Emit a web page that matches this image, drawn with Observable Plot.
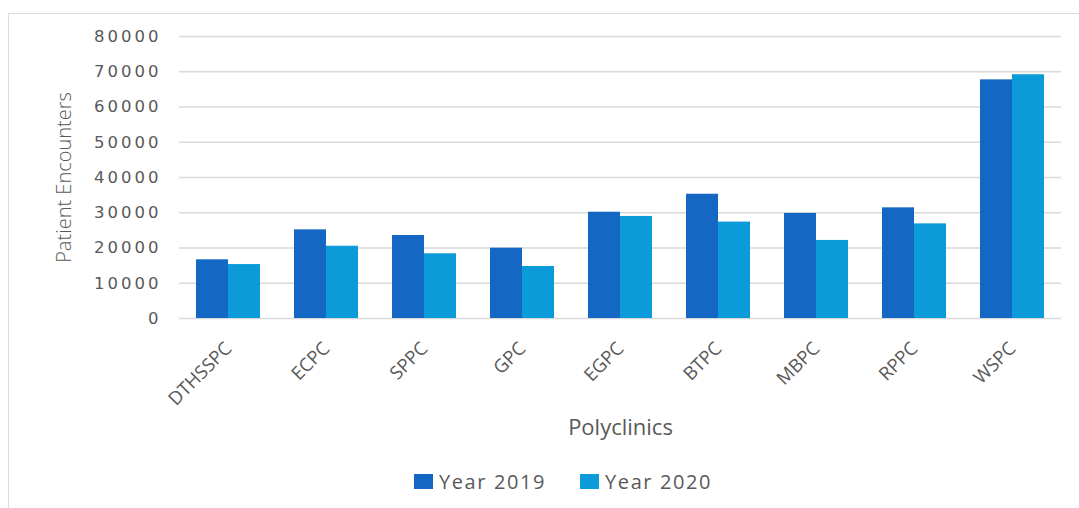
<!DOCTYPE html>
<html>
<head>
<meta charset="utf-8">
<script src="https://cdn.jsdelivr.net/npm/d3@7"></script>
<script src="https://cdn.jsdelivr.net/npm/@observablehq/plot@0.6"></script>
<style>
  html, body { margin: 0; padding: 0; background: #fff; }
  #wrap { position: relative; width: 1079px; height: 508px; overflow: hidden; }
  #frame { position: absolute; left: 8px; top: 13px; width: 1200px; height: 600px; border: 1px solid #dcdcdc; pointer-events: none; }
  g[aria-label="y-axis tick label"] text { letter-spacing: 3px; }
  #legend { position: absolute; left: 414px; top: 468px; display: flex; gap: 0; font-family: "Open Sans", sans-serif; font-size: 20px; color: #595959; letter-spacing: 1.6px; }
  .item { display: flex; align-items: center; margin-right: 34px; }
  .sw { width: 19px; height: 15px; margin-right: 6px; }
</style>
</head>
<body>
<div id="wrap">
  <div id="chart"></div>
  <div id="legend"></div>
  <div id="frame"></div>
</div>
<script>
const clinics = ["DTHSSPC", "ECPC", "SPPC", "GPC", "EGPC", "BTPC", "MBPC", "RPPC", "WSPC"];
const years = ["Year 2019", "Year 2020"];
const v2019 = [16650, 25150, 23550, 19950, 30150, 35250, 29800, 31400, 67700];
const v2020 = [15300, 20500, 18350, 14750, 28950, 27350, 22150, 26850, 69150];
const yTicks = [0, 10000, 20000, 30000, 40000, 50000, 60000, 70000, 80000];
const colors = ["#1468c4", "#0b9bd8"];

const data = clinics.flatMap((c, i) => [
  {clinic: c, year: years[0], value: v2019[i]},
  {clinic: c, year: years[1], value: v2020[i]}
]);

const chart = Plot.plot({
  width: 1079,
  height: 460,
  marginLeft: 175,
  marginRight: 14,
  marginTop: 36,
  marginBottom: 142,
  style: {background: "transparent"},
  fx: {domain: clinics, padding: 0, label: null},
  x: {domain: years, paddingInner: 0, paddingOuter: 0.5, axis: null},
  y: {domain: [0, 80000], axis: null},
  color: {domain: years, range: colors},
  marks: [
    Plot.gridY(yTicks, {stroke: "#d9d9d9", strokeOpacity: 1, strokeWidth: 1.3}),
    Plot.barY(data, {fx: "clinic", x: "year", y: "value", fill: "year"}),
    Plot.axisY(yTicks, {anchor: "left", tickSize: 0, tickPadding: 18, tickFormat: d => String(d), fontSize: 16.5, fontFamily: "DejaVu Sans", color: "#595959", label: null}),
    Plot.axisFx({anchor: "bottom", tickRotate: -45, tickSize: 0, tickPadding: 27, fontSize: 18.5, fontFamily: "Open Sans", color: "#595959", label: null}),
    Plot.text(["Patient Encounters"], {facet: "super", frameAnchor: "left", textAnchor: "middle", rotate: -90, dx: -115, fontSize: 20, fontFamily: "Open Sans", fontWeight: 300, fill: "#595959"}),
    Plot.text(["Polyclinics"], {facet: "super", frameAnchor: "bottom", dy: 116, fontSize: 22, fontFamily: "Open Sans", fill: "#595959"})
  ]
});
document.getElementById("chart").appendChild(chart);

const legend = d3.select("#legend");
years.forEach((y, i) => {
  const it = legend.append("div").attr("class", "item");
  it.append("div").attr("class", "sw").style("background", colors[i]);
  it.append("span").text(y);
});
</script>
</body>
</html>
